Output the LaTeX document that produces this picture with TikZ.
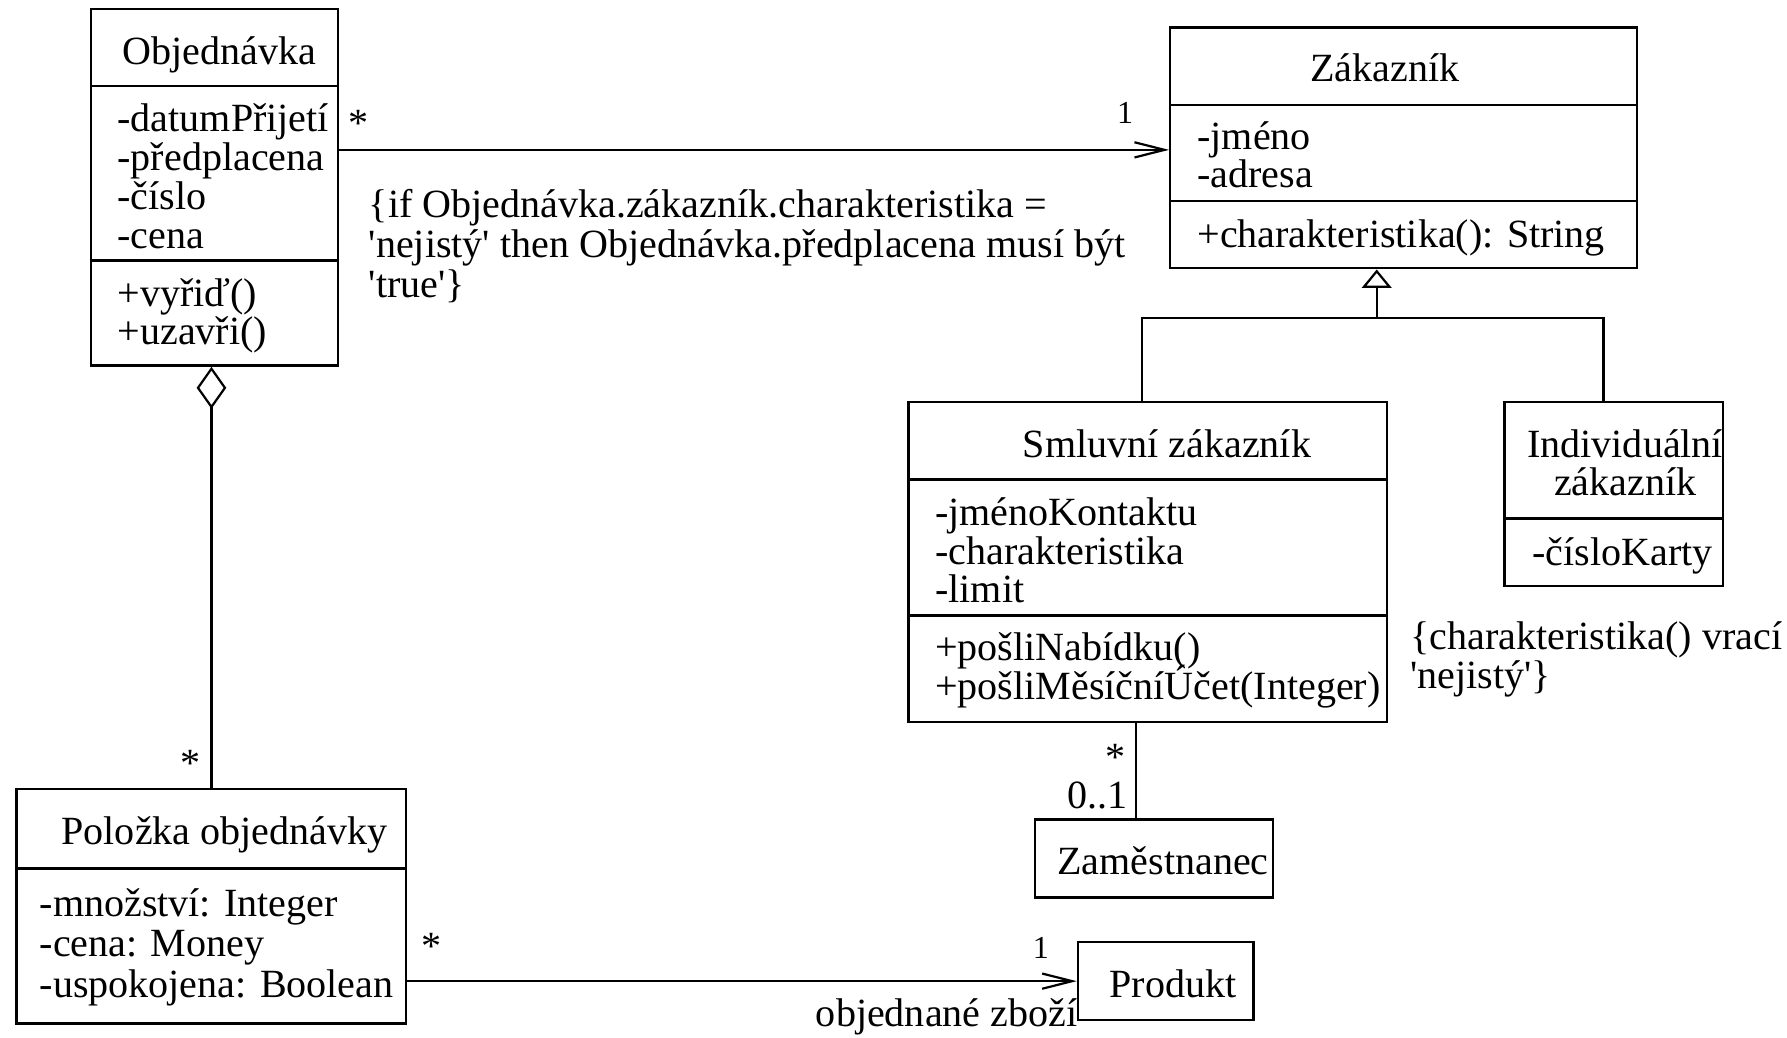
\documentclass[tikz,border=0pt]{standalone}
\usepackage{fontspec}
\setmainfont{Liberation Serif}
\usetikzlibrary{arrows.meta}
\usetikzlibrary{fit}
\usetikzlibrary{positioning}

\begin{document}
\begin{tikzpicture}[x=1mm, y=-1mm]
	\tikzstyle{cls}=[draw, line width=0.6pt, inner sep=0pt];
	\tikzstyle{txt}=[anchor=base west, inner sep=0pt, font=\fontsize{10}{10}\selectfont];
	\tikzstyle{nm}=[txt, anchor=base];
	\tikzstyle{la}=[txt, font=\fontsize{8}{8}\selectfont];
	\tikzstyle{assoc}=[line width=0.55pt, -{Straight Barb[length=7.5pt, width=3.8pt]}];
	\tikzstyle{gen}=[line width=0.55pt, -{Triangle[open, length=4.6pt, width=7.4pt]}];
	\tikzstyle{aggr}=[line width=0.55pt, -{Diamond[open, length=10.5pt, width=7.4pt]}];
	\useasboundingbox (0,0) rectangle (156.8,91);
	\node[cls, fit={(7.96,0.79) (29.65,32.08)}] (obj) {};
	\node[cls, fit={(102.68,2.4) (143.66,23.54)}] (zak) {};
	\node[cls, fit={(79.7,35.27) (121.7,63.35)}] (smluv) {};
	\node[cls, fit={(132.0,35.27) (151.2,51.42)}] (indiv) {};
	\node[cls, fit={(90.8,71.89) (111.68,78.76)}] (zam) {};
	\node[cls, fit={(1.46,69.23) (35.65,89.79)}] (pol) {};
	\node[cls, fit={(94.58,82.68) (110.0,89.5)}] (prod) {};
	\foreach \b/\y in {obj/7.55, obj/22.87, zak/9.19, zak/17.66, smluv/42.06, smluv/53.99, indiv/45.51, pol/76.19}
	{\draw[line width=0.6pt] (\b.west |- 0,\y) -- (\b.east |- 0,\y);}
	\node[nm] (objn) at (19.25,5.66) {Objednávka};
	\foreach \y/\t [count=\i] in {11.5/-datumPřijetí, 14.95/-předplacena, 18.35/-číslo, 21.8/-cena, 26.9/+vyřiď(), 30.25/+uzavři()}
	{\node[txt] (obj\i) at (10.25,\y) {\t};}
	\node[nm] (zakn) at (121.5,7.17) {Zákazník};
	\foreach \y/\t [count=\i] in {13.1/-jméno, 16.45/-adresa, 21.75/+charakteristika(): String}
	{\node[txt] (zak\i) at (105.0,\y) {\t};}
	\node[nm] (smluvn) at (102.4,40.1) {Smluvní zákazník};
	\foreach \y/\t [count=\i] in {46.15/-jménoKontaktu, 49.5/-charakteristika, 52.85/-limit, 57.95/+pošliNabídku(), 61.4/+pošliMěsíčníÚčet(Integer)}
	{\node[txt] (smluv\i) at (82.0,\y) {\t};}
	\node[nm] (indivn) at (142.6,40.1) {Individuální};
	\node[nm] (indivm) at (142.6,43.5) {zákazník};
	\node[txt] (indiv1) at (134.4,49.6) {-čísloKarty};
	\node[txt] (zamn) at (92.7,76.7) {Zaměstnanec};
	\node[nm] (poln) at (19.7,74.1) {Položka objednávky};
	\foreach \y/\t [count=\i] in {80.4/-množství: Integer, 83.9/-cena: Money, 87.5/-uspokojena: Boolean}
	{\node[txt] (pol\i) at (3.42,\y) {\t};}
	\node[txt] (prodn) at (97.3,87.55) {Produkt};
	\foreach \y/\t [count=\i] in {19.1/\{if Objednávka.zákazník.charakteristika =, 22.6/\textquotesingle nejistý\textquotesingle{} then Objednávka.předplacena musí být, 26.1/\textquotesingle true\textquotesingle\}}
	{\node[txt] (c\i) at (32.3,\y) {\t};}
	\node[txt] (c4) at (123.7,57.0) {\{charakteristika() vrací};
	\node[txt] (c5) at (123.7,60.4) {\textquotesingle nejistý\textquotesingle\}};
	\coordinate (bar) at (120.8,27.87);
	\draw[assoc] (obj.east |- 0,13.15) -- (zak.west |- 0,13.15);
	\draw[gen] (smluv.north -| 100.2,0) |- (bar) -- (bar |- zak.south);
	\draw[line width=0.55pt] (indiv.north -| 140.7,0) |- (bar);
	\draw[aggr] (pol.north) -- (pol.north |- obj.south);
	\draw[line width=0.55pt] (zam.north -| 99.7,0) -- (smluv.south -| 99.7,0);
	\draw[assoc] (pol.east |- prod.west) -- (prod.west);
	\node[txt] (m1) at (30.5,12.0) {*};
	\node[la, anchor=base east] (m2) at (99.5,10.8) {1};
	\node[txt] (m3) at (15.73,68.1) {*};
	\node[txt] (m4) at (96.9,67.6) {*};
	\node[txt, anchor=base east] (m5) at (99.0,70.9) {0..1};
	\node[txt] (m6) at (36.87,84.2) {*};
	\node[la, anchor=base east] (m7) at (92.1,84.1) {1};
	\node[txt, anchor=base east] (role) at (94.6,90.1) {objednané zboží};
\end{tikzpicture}
\end{document}
